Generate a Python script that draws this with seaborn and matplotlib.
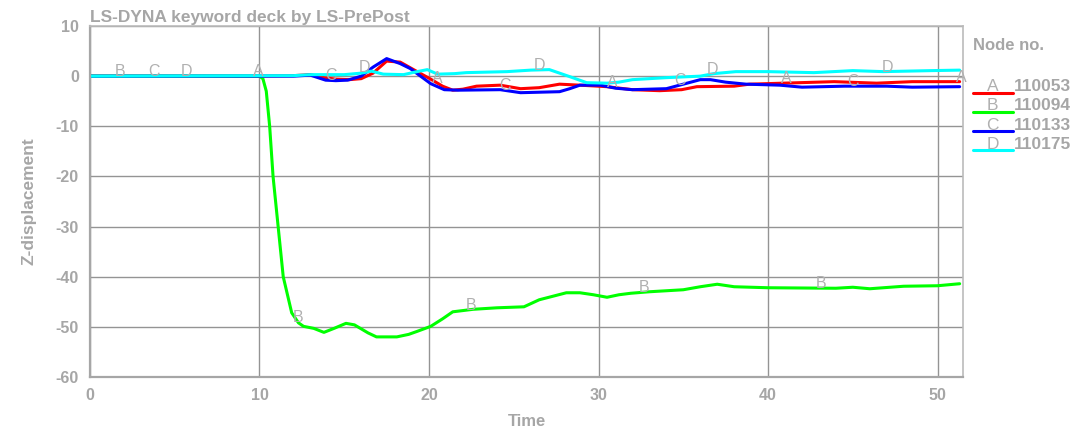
import numpy as np
import pandas as pd
import matplotlib
matplotlib.use("Agg")
import matplotlib.pyplot as plt
from matplotlib.lines import Line2D
from matplotlib.ticker import MultipleLocator
import seaborn as sns

# node curves
t_a = [0, 10, 12, 13.0, 13.8, 14.5, 15.3, 16.0, 16.7, 17.5, 18.3, 19.3, 20.1, 20.8, 21.4, 22.0,
       22.8, 24.2, 25.4, 26.5, 27.7, 28.9, 30.5, 32.0, 33.6, 34.9, 35.8, 38.0, 38.9, 41.9,
       43.9, 46.4, 48.5, 51.3]
z_a = [0, 0, 0.1, 0.3, -0.3, -0.6, -0.7, -0.5, 0.6, 3.0, 2.8, 0.9, -0.6, -2.0, -2.8, -2.6,
       -2.0, -1.8, -2.5, -2.3, -1.6, -1.8, -2.1, -2.7, -2.9, -2.7, -2.1, -2.0, -1.6, -1.3,
       -1.1, -1.4, -1.1, -1.1]

t_b = [0, 10, 10.2, 10.4, 10.6, 10.8, 11.1, 11.4, 11.9, 12.3, 12.6, 13.2, 13.8, 14.4, 15.1,
       15.6, 16.4, 16.9, 18.1, 18.8, 19.3, 20.1, 20.8, 21.4, 22.6, 24.0, 25.6, 26.5, 28.1,
       28.9, 29.7, 30.5, 31.2, 31.9, 33.0, 35.0, 36.0, 37.0, 38.0, 40.0, 44.0, 45.0, 46.0,
       48.0, 50.0, 51.3]
z_b = [0, 0, -0.5, -3, -10, -20, -30, -40, -47.2, -49.2, -49.9, -50.3, -51.1, -50.3, -49.3,
       -49.6, -51.2, -52.0, -52.0, -51.5, -50.9, -49.9, -48.4, -47.0, -46.5, -46.2, -46.0,
       -44.6, -43.2, -43.2, -43.6, -44.1, -43.6, -43.3, -43.0, -42.6, -42.0, -41.5, -42.0,
       -42.2, -42.3, -42.1, -42.4, -41.9, -41.8, -41.4]

t_c = [0, 10, 12, 13.0, 13.9, 14.5, 15.2, 16.0, 16.7, 17.5, 18.3, 18.9, 19.3, 20.1, 20.9,
       21.7, 24.2, 25.4, 27.7, 28.3, 28.9, 30.1, 31.0, 32.0, 34.0, 35.0, 36.0, 36.6, 37.5,
       38.7, 40.7, 42.0, 44.5, 47.0, 48.5, 51.3]
z_c = [0, 0, 0, 0.2, -0.8, -0.9, -0.8, 0.0, 1.8, 3.5, 2.5, 1.5, 0.5, -1.5, -2.7,
       -2.8, -2.7, -3.3, -3.1, -2.5, -1.8, -1.8, -2.4, -2.7, -2.5, -1.6, -0.7, -0.7, -1.2,
       -1.6, -1.8, -2.2, -2.0, -2.0, -2.2, -2.1]

t_d = [0, 12, 13, 15, 16, 16.6, 17.3, 18.5, 19.3, 19.9, 20.5, 21.5, 22.2, 24.6, 26.0, 27.1,
       27.7, 28.3, 29.3, 30.5, 31.2, 32.0, 34.0, 36.0, 36.8, 38.1, 40.0, 42.7, 45.0, 46.8,
       49.6, 51.3]
z_d = [0, 0.1, 0.3, 0.3, 0.6, 1.0, 0.4, 0.3, 0.9, 1.3, 0.4, 0.5, 0.7, 0.9, 1.2, 1.3,
       0.6, -0.1, -1.3, -1.4, -1.2, -0.7, -0.3, 0.0, 0.5, 0.9, 0.9, 0.7, 1.1, 0.9,
       1.1, 1.2]

letters = ["A", "B", "C", "D"]
node_ids = ["110053", "110094", "110133", "110175"]
colors = ["#ff0000", "#00ff00", "#0000ff", "#00ffff"]

# where the curve letters sit along time
mark_a = [9.9, 20.5, 30.8, 41.1, 51.4]
mark_b = [1.8, 12.25, 22.5, 32.7, 43.1]
mark_c = [3.8, 14.2, 24.5, 34.8, 45.0]
mark_d = [5.7, 16.2, 26.5, 36.75, 47.05]

times = [t_a, t_b, t_c, t_d]
values = [z_a, z_b, z_c, z_d]
marks = [mark_a, mark_b, mark_c, mark_d]

frames = []
for letter, nid, t, z in zip(letters, node_ids, times, values):
    frames.append(pd.DataFrame({"Time": t, "Z": z, "Node": nid}))
df = pd.concat(frames, ignore_index=True)

sns.set_style("white")
grey = "#a6a6a6"
plt.rcParams["font.family"] = ["Liberation Sans", "DejaVu Sans"]
plt.rcParams["axes.unicode_minus"] = False

fig = plt.figure(figsize=(10.8, 4.37), dpi=100)
ax = fig.add_axes([0.0833, 0.1373, 0.8084, 0.8032])

sns.lineplot(data=df, x="Time", y="Z", hue="Node", hue_order=node_ids,
             palette=colors, estimator=None, sort=False, linewidth=2.2,
             legend=False, ax=ax)

for letter, t, z, m in zip(letters, times, values, marks):
    for tm in m:
        ax.text(tm, np.interp(tm, t, z), letter, ha="center", va="baseline",
                fontsize=11.5, color="#b0b0b0", zorder=5)

ax.set_xlim(0, 51.5)
ax.set_ylim(-60, 10)
ax.xaxis.set_major_locator(MultipleLocator(10))
ax.xaxis.set_minor_locator(MultipleLocator(5))
ax.yaxis.set_major_locator(MultipleLocator(10))
ax.yaxis.set_minor_locator(MultipleLocator(5))
ax.grid(True, which="major", color="#949494", linewidth=1)
ax.tick_params(which="major", direction="out", length=5, color=grey, width=1,
               labelcolor=grey, labelsize=11.5, pad=3)
ax.tick_params(which="minor", direction="in", length=7, color=grey, width=1)
for lab in ax.get_xticklabels() + ax.get_yticklabels():
    lab.set_fontweight("bold")
for side in ["left", "bottom"]:
    ax.spines[side].set_color(grey)
    ax.spines[side].set_linewidth(1.6)
for side in ["top", "right"]:
    ax.spines[side].set_color("#bbbbbb")
    ax.spines[side].set_linewidth(1.2)

ax.set_xlabel("Time", fontsize=12, fontweight="bold", color=grey, labelpad=8)
ax.set_ylabel("Z-displacement", fontsize=12.5, fontweight="bold", color=grey, labelpad=14)
ax.set_title("LS-DYNA keyword deck by LS-PrePost", loc="left", fontsize=12.5,
             fontweight="bold", color=grey, pad=3)

# legend on the right, built by hand
fig.text(0.901, 0.885, "Node no.", fontsize=12, fontweight="bold", color=grey,
         ha="left", va="baseline")
for i, (letter, nid, c) in enumerate(zip(letters, node_ids, colors)):
    y = 1 - (92.5 + 19.2 * i) / 437
    fig.add_artist(Line2D([0.901, 0.938], [y, y], color=c, linewidth=2.2,
                          transform=fig.transFigure))
    fig.text(0.919, y + 0.003, letter, fontsize=12.5, color="#b0b0b0",
             ha="center", va="baseline")
    fig.text(0.939, y + 0.003, nid, fontsize=12.5, fontweight="bold", color=grey,
             ha="left", va="baseline")

fig.savefig("out.png", dpi=100)
